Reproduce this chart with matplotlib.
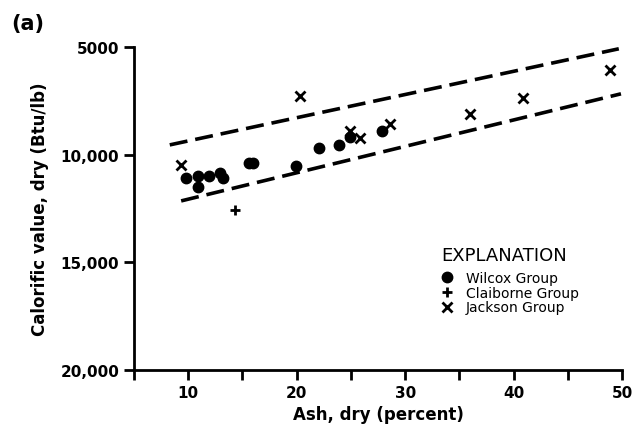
import matplotlib.pyplot as plt

# ash (percent) vs calorific value (Btu/lb)
wilcox_ash = [9.8, 10.9, 10.9, 11.9, 12.9, 13.2, 15.6, 16.0, 19.9, 22.1, 23.9, 24.9, 27.9]
wilcox_btu = [11100, 11500, 11000, 11000, 10850, 11100, 10400, 10400, 10530, 9690, 9540, 9190, 8900]

claiborne_ash = [14.3]
claiborne_btu = [12550]

jackson_ash = [9.3, 20.3, 24.9, 25.8, 28.6, 36.0, 40.9, 48.9]
jackson_btu = [10500, 7260, 8890, 9240, 8580, 8110, 7370, 6070]

# envelope lines
upper_ash = [8.3, 49.7]
upper_btu = [9550, 5090]
lower_ash = [9.35, 49.9]
lower_btu = [12150, 7180]

x_ticks = [5, 10, 15, 20, 25, 30, 35, 40, 45, 50]
x_labels = ['', '10', '', '20', '', '30', '', '40', '', '50']
y_ticks = [5000, 10000, 15000, 20000]
y_labels = ['5000', '10,000', '15,000', '20,000']

fig = plt.figure(figsize=(6.38, 4.35), dpi=100)
ax = fig.add_axes([0.21, 0.147, 0.765, 0.743])

dash = dict(color='black', lw=2.6, linestyle=(0, (5, 2.2)), dash_capstyle='butt')
ax.plot(upper_ash, upper_btu, **dash)
ax.plot(lower_ash, lower_btu, **dash)

ax.plot(wilcox_ash, wilcox_btu, 'o', color='black', ms=7.5, ls='none', label='Wilcox Group')
ax.plot(claiborne_ash, claiborne_btu, '+', color='black', ms=7, mew=2, ls='none', label='Claiborne Group')
ax.plot(jackson_ash, jackson_btu, 'x', color='black', ms=7, mew=2, ls='none', label='Jackson Group')

ax.set_xlim(5, 50)
ax.set_ylim(20000, 5000)
ax.set_xticks(x_ticks)
ax.set_xticklabels(x_labels)
ax.set_yticks(y_ticks)
ax.set_yticklabels(y_labels)

for s in ['top', 'right']:
    ax.spines[s].set_visible(False)
for s in ['left', 'bottom']:
    ax.spines[s].set_linewidth(2)
ax.tick_params(width=2, length=7, labelsize=11, direction='out')
for lab in ax.get_xticklabels() + ax.get_yticklabels():
    lab.set_fontweight('bold')

ax.set_xlabel('Ash, dry (percent)', fontsize=12, fontweight='bold', labelpad=4)
ax.set_ylabel('Calorific value, dry (Btu/lb)', fontsize=12, fontweight='bold', labelpad=8)

leg = ax.legend(title='EXPLANATION', loc='upper left', bbox_to_anchor=(0.615, 0.405),
                frameon=False, fontsize=10, handletextpad=1.0, labelspacing=0.05,
                handlelength=0.8, borderpad=0, alignment='left')
leg.get_title().set_fontsize(13)
leg._legend_box.sep = 5

fig.text(0.018, 0.945, '(a)', fontsize=15, fontweight='bold', va='center')

fig.savefig('out.png', dpi=100)
